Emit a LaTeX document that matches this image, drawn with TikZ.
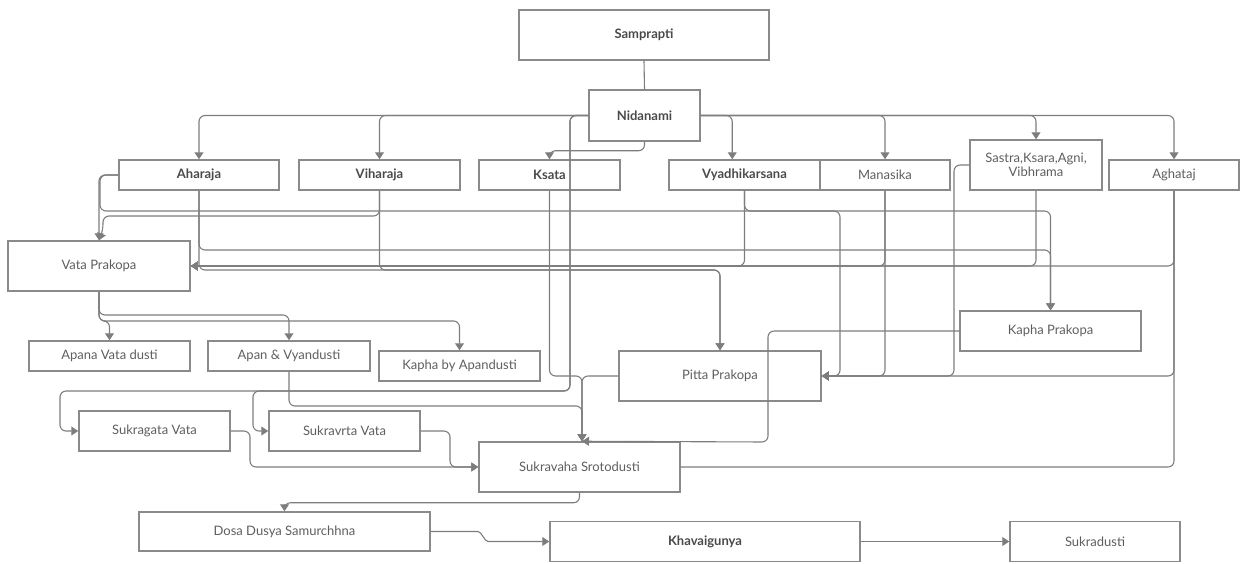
\documentclass[tikz,border=0pt]{standalone}
\usepackage{fontspec}
\setmainfont{Lato}
\usetikzlibrary{arrows.meta,calc}
\definecolor{linec}{HTML}{7D7D7D}
\definecolor{boxc}{HTML}{8A8A8A}
\definecolor{txtc}{HTML}{5E5E5E}
\definecolor{btxtc}{HTML}{4A4A4A}
\begin{document}
\begin{tikzpicture}[x=1pt,y=-1pt,
  box/.style={draw=boxc, line width=1.5pt, inner sep=0pt, text=txtc, align=center,
    font=\fontsize{13}{14.5}\selectfont},
  bbox/.style={box, text=btxtc, font=\fontsize{13}{14.5}\selectfont\bfseries},
  conn/.style={draw=linec, line width=1.1pt, rounded corners=6pt},
  arr/.style={conn, -{Triangle[width=9pt,length=7pt]}}]
\useasboundingbox (0,0) rectangle (1241,563);

% nodes
\node[bbox, minimum width=250pt, minimum height=50pt] (samp) at (644,35) {Samprapti};
\node[bbox, minimum width=111pt, minimum height=51pt] (nid) at (644.5,115.5) {Nidanami};
\node[bbox, minimum width=160pt, minimum height=30pt] (ahar) at (199,175) {Aharaja};
\node[bbox, minimum width=161pt, minimum height=30pt] (vihar) at (379.5,175) {Viharaja};
\node[bbox, minimum width=141pt, minimum height=30pt] (ksata) at (549.5,175) {Ksata};
\node[bbox, minimum width=151pt, minimum height=30pt] (vyadhi) at (744.5,175) {Vyadhikarsana};
\node[box, minimum width=130pt, minimum height=30pt] (manas) at (885,175) {Manasika};
\node[box, minimum width=132pt, minimum height=50pt] (sastra) at (1036,165) {Sastra,Ksara,Agni,\\Vibhrama};
\node[box, minimum width=130pt, minimum height=30pt] (aghat) at (1174,175) {Aghataj};
\node[box, minimum width=182pt, minimum height=50pt] (vata) at (99,266) {Vata Prakopa};
\node[box, minimum width=161pt, minimum height=30pt] (apana) at (109.5,356) {Apana Vata dusti};
\node[box, minimum width=162pt, minimum height=30pt] (apanv) at (289,356) {Apan \& Vyandusti};
\node[box, minimum width=161pt, minimum height=30pt] (kaphaA) at (459.5,366) {Kapha by Apandusti};
\node[box, minimum width=202pt, minimum height=50pt] (pitta) at (720,376) {Pitta Prakopa};
\node[box, minimum width=181pt, minimum height=40pt] (kaphaP) at (1050.5,331) {Kapha Prakopa};
\node[box, minimum width=151pt, minimum height=40pt] (sgata) at (154.5,431) {Sukragata Vata};
\node[box, minimum width=151pt, minimum height=40pt] (svrta) at (344.5,431) {Sukravrta Vata};
\node[box, minimum width=201pt, minimum height=50pt] (svaha) at (579.5,467) {Sukravaha Srotodusti};
\node[box, minimum width=291pt, minimum height=39pt] (dosa) at (284.5,531.5) {Dosa Dusya Samurchhna};
\node[bbox, minimum width=310pt, minimum height=40pt] (khav) at (705,541.5) {Khavaigunya};
\node[box, minimum width=170pt, minimum height=40pt] (sukr) at (1095,541.5) {Sukradusti};

% connectors
\draw[conn] (samp.south) -- (nid.north);
\draw[arr] (nid.west) -| (ahar.north);
\draw[arr] (nid.west) -| (vihar.north);
\draw[arr] (nid.east) -| ($(vyadhi.north west)+(64,0)$);
\draw[arr] (nid.east) -| (manas.north);
\draw[arr] (nid.east) -| (sastra.north);
\draw[arr] (nid.east) -| (aghat.north);
\draw[arr] (nid.south) -- ++(0,9) -| (ksata.north);
\draw[arr] (nid.west) -- (570,115.5) -- (570,391) -- (60,391) |- (sgata.west);
\draw[arr] (nid.west) -- (570,115.5) -- (570,391) -- (253,391) |- (svrta.west);

\draw[arr] (ahar.west) -| (vata.north);
\draw[arr] (ahar.west) -- (100,175) -- (100,211) -| (kaphaP.north);
\draw[arr] (vihar.south) -- (379.5,216) -- (103,216) -- (103,230) -- (vata.north);
\draw[arr] (ahar.south) |- (1050.5,250) -- (kaphaP.north);
\draw[arr] (ahar.south) |- (720,270) -- (pitta.north);
\draw[arr] (vihar.south) |- (720,270) -- (pitta.north);

\draw[arr] (vyadhi.south) |- (840,211) |- (pitta.east);
\draw[arr] (vyadhi.south) |- (vata.east);
\draw[arr] (manas.south) |- (vata.east);
\draw[arr] (manas.south) |- (pitta.east);
\draw[arr] (sastra.south) |- (vata.east);
\draw[arr] (sastra.west) -- (954,165) |- (pitta.east);
\draw[arr] (aghat.south) |- (vata.east);
\draw[arr] (aghat.south) |- (pitta.east);
\draw[conn] (aghat.south) |- (svaha.east);

\draw[arr] (pitta.west) -| ($(svaha.north)+(2.5,0)$);
\draw[arr] (ksata.south) -- (549.5,376) -| ($(svaha.north)+(2.5,0)$);
\draw[arr] (apanv.south) -- (289,406) -| ($(svaha.north)+(2.5,0)$);
\draw[arr] (kaphaP.west) -- (768,331) -- (768,442) -- ($(svaha.north)+(2.5,0)$);

\draw[arr] (vata.south) -- (99,315) -| (apanv.north);
\draw[arr] (vata.south) -- (99,321) -| (apana.north);
\draw[arr] (vata.south) -- (99,321) -| (kaphaA.north);

\draw[arr] (sgata.east) -- (250,431) |- (svaha.west);
\draw[arr] (svrta.east) -- (450,431) |- (svaha.west);
\draw[arr] (svaha.south) -- ++(0,10) -| (dosa.north);
\draw[arr] (dosa.east) -- (472,531.5) to[out=0,in=180] (494,541.5) -- (khav.west);
\draw[arr] (khav.east) -- (sukr.west);
\end{tikzpicture}
\end{document}
